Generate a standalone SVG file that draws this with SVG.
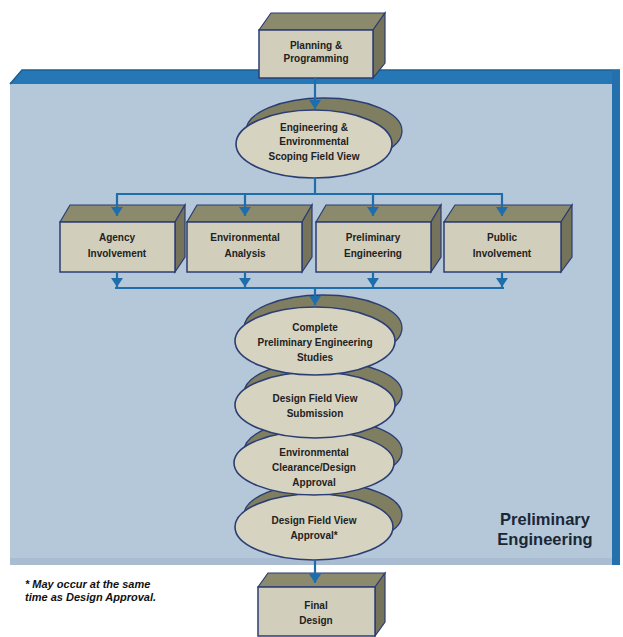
<svg xmlns="http://www.w3.org/2000/svg" width="623" height="637" viewBox="0 0 623 637">
<style>
.t{font-family:"Liberation Sans",Arial,sans-serif;font-size:10px;font-weight:bold;fill:#222;text-anchor:middle}
.front{fill:#d1cebb;stroke:#2b3d73;stroke-width:1.5}
.top{fill:#8c8a6d;stroke:#2b3d73;stroke-width:1.2}
.side{fill:#75735a;stroke:#2b3d73;stroke-width:1.2}
.dback{fill:#807e61;stroke:#2b3d73;stroke-width:1.3}
.dfront{fill:#d6d3c1;stroke:#2b3d73;stroke-width:1.6}
.c{stroke:#1f6eab;stroke-width:2.2;fill:none}
.lbl{font-family:"Liberation Sans",Arial,sans-serif;font-size:16.5px;font-weight:bold;fill:#1b2735;text-anchor:middle}
.fn{font-family:"Liberation Sans",Arial,sans-serif;font-size:11px;font-style:italic;font-weight:bold;fill:#111}
</style>
<defs>
<marker id="ah" viewBox="0 0 9 12" refX="9" refY="6" markerWidth="9" markerHeight="12" markerUnits="userSpaceOnUse" orient="auto">
<path d="M0,0 L9,6 L0,12 Z" fill="#1f6eab"/>
</marker>
</defs>
<rect width="623" height="637" fill="#ffffff"/>
<g id="panel">
<rect x="10" y="82" width="603" height="483" fill="#b5c8da"/>
<rect x="10" y="558" width="603" height="7" fill="#a9bcd1"/>
<path d="M10,84 L22,70 L620,70 L620,84 Z" fill="#2578b5"/>
<path d="M10,84 L22,70 L620,70" fill="none" stroke="#1b5f95" stroke-width="1.5"/>
<rect x="612" y="70" width="8" height="495" fill="#2470ad"/>
<text class="lbl" x="545" y="525">Preliminary</text>
<text class="lbl" x="545" y="545">Engineering</text>
</g>
<g id="planning">
<path class="top" d="M259,30 L271,13 L385,13 L373,30 Z"/>
<path class="side" d="M373,30 L385,13 L385,63 L373,78 Z"/>
<rect class="front" x="259" y="30" width="114" height="48"/>
<text class="t" x="316" y="49">Planning &amp;</text>
<text class="t" x="316" y="62">Programming</text>
</g>
<g id="scoping">
<ellipse class="dback" cx="324" cy="131" rx="78" ry="33"/>
<ellipse class="dfront" cx="314" cy="144" rx="78" ry="34"/>
<text class="t" x="314" y="131">Engineering &amp;</text>
<text class="t" x="314" y="145">Environmental</text>
<text class="t" x="314" y="160">Scoping Field View</text>
</g>
<g id="agency">
<path class="top" d="M60,222 L70,205 L185,205 L175,222 Z"/>
<path class="side" d="M175,222 L185,205 L185,257 L175,272 Z"/>
<rect class="front" x="60" y="222" width="115" height="50"/>
<text class="t" x="117" y="241">Agency</text>
<text class="t" x="117" y="257">Involvement</text>
</g>
<g id="environmental">
<path class="top" d="M187,222 L197,205 L312,205 L302,222 Z"/>
<path class="side" d="M302,222 L312,205 L312,257 L302,272 Z"/>
<rect class="front" x="187" y="222" width="115" height="50"/>
<text class="t" x="245" y="241">Environmental</text>
<text class="t" x="245" y="257">Analysis</text>
</g>
<g id="prelim-eng">
<path class="top" d="M316,222 L326,205 L441,205 L431,222 Z"/>
<path class="side" d="M431,222 L441,205 L441,257 L431,272 Z"/>
<rect class="front" x="316" y="222" width="115" height="50"/>
<text class="t" x="373" y="241">Preliminary</text>
<text class="t" x="373" y="257">Engineering</text>
</g>
<g id="public">
<path class="top" d="M444,222 L455,205 L572,205 L561,222 Z"/>
<path class="side" d="M561,222 L572,205 L572,257 L561,272 Z"/>
<rect class="front" x="444" y="222" width="117" height="50"/>
<text class="t" x="502" y="241">Public</text>
<text class="t" x="502" y="257">Involvement</text>
</g>
<g id="dfv-approval">
<ellipse class="dback" cx="323" cy="515" rx="79" ry="32"/>
<ellipse class="dfront" cx="314" cy="527" rx="79" ry="33"/>
<text class="t" x="314" y="524">Design Field View</text>
<text class="t" x="314" y="539">Approval*</text>
</g>
<g id="env-clearance">
<ellipse class="dback" cx="323" cy="451" rx="79" ry="32"/>
<ellipse class="dfront" cx="314" cy="463" rx="80" ry="32"/>
<text class="t" x="314" y="456">Environmental</text>
<text class="t" x="314" y="471">Clearance/Design</text>
<text class="t" x="314" y="486">Approval</text>
</g>
<g id="dfv-submission">
<ellipse class="dback" cx="323" cy="393" rx="79" ry="32"/>
<ellipse class="dfront" cx="315" cy="405" rx="80" ry="33"/>
<text class="t" x="315" y="402">Design Field View</text>
<text class="t" x="315" y="417">Submission</text>
</g>
<g id="complete-studies">
<ellipse class="dback" cx="323" cy="328" rx="79" ry="33"/>
<ellipse class="dfront" cx="315" cy="341" rx="80" ry="34"/>
<text class="t" x="315" y="331">Complete</text>
<text class="t" x="315" y="346">Preliminary Engineering</text>
<text class="t" x="315" y="361">Studies</text>
</g>
<g id="final">
<path class="top" d="M258,587 L268,573 L385,573 L375,587 Z"/>
<path class="side" d="M375,587 L385,573 L385,622 L375,636 Z"/>
<rect class="front" x="258" y="587" width="117" height="49"/>
<text class="t" x="316" y="609">Final</text>
<text class="t" x="316" y="624">Design</text>
</g>
<g id="connectors">
<line class="c" x1="315" y1="78" x2="315" y2="109" marker-end="url(#ah)"/>
<line class="c" x1="315" y1="178" x2="315" y2="194"/>
<line class="c" x1="116" y1="194" x2="503" y2="194"/>
<line class="c" x1="117" y1="194" x2="117" y2="216" marker-end="url(#ah)"/>
<line class="c" x1="245" y1="194" x2="245" y2="216" marker-end="url(#ah)"/>
<line class="c" x1="373" y1="194" x2="373" y2="216" marker-end="url(#ah)"/>
<line class="c" x1="502" y1="194" x2="502" y2="216" marker-end="url(#ah)"/>
<line class="c" x1="117" y1="272" x2="117" y2="287" marker-end="url(#ah)"/>
<line class="c" x1="245" y1="272" x2="245" y2="287" marker-end="url(#ah)"/>
<line class="c" x1="373" y1="272" x2="373" y2="287" marker-end="url(#ah)"/>
<line class="c" x1="502" y1="272" x2="502" y2="287" marker-end="url(#ah)"/>
<line class="c" x1="115" y1="288" x2="504" y2="288"/>
<line class="c" x1="315" y1="288" x2="315" y2="305" marker-end="url(#ah)"/>
<line class="c" x1="315" y1="560" x2="315" y2="583" marker-end="url(#ah)"/>
</g>
<g id="footnote">
<text class="fn" x="25" y="588">* May occur at the same</text>
<text class="fn" x="25" y="601">time as Design Approval.</text>
</g>
</svg>
